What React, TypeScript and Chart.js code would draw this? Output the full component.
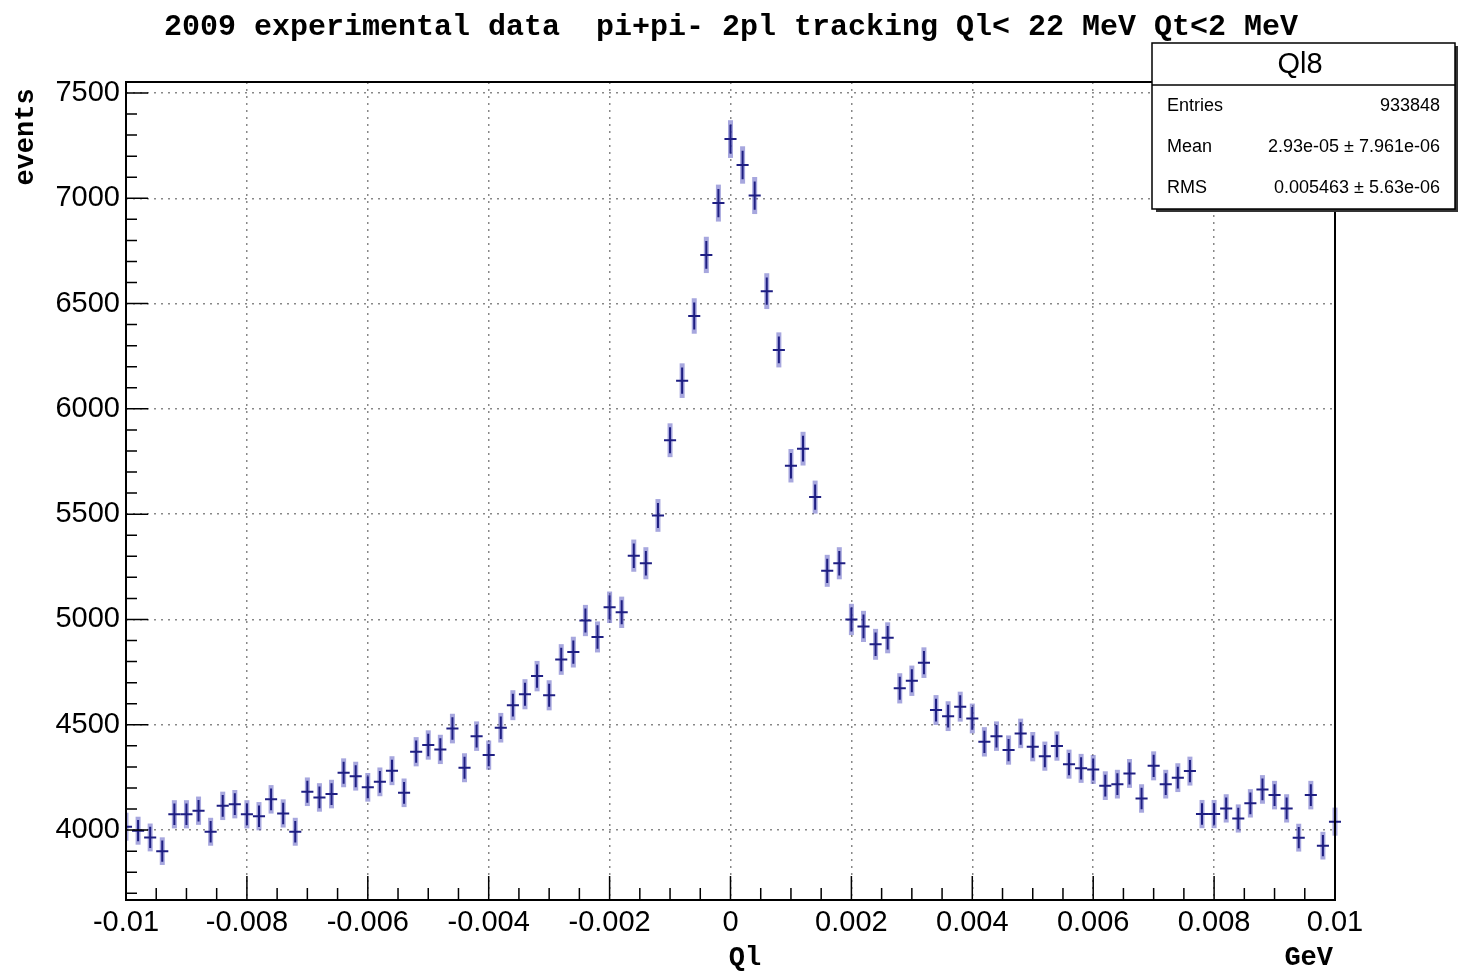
import React, { useEffect, useRef } from "react";
import { Chart, registerables } from "chart.js";
Chart.register(...registerables);

const TITLE = "2009 experimental data  pi+pi- 2pl tracking Ql< 22 MeV Qt<2 MeV";
const X_MIN = -0.01;
const BIN_WIDTH = 0.0002;
const COUNTS = [
  4016, 3997, 3965, 3900, 4075, 4075, 4092, 3992, 4115, 4123,
  4075, 4066, 4146, 4079, 3992, 4182, 4155, 4171, 4272, 4256,
  4203, 4229, 4282, 4177, 4372, 4404, 4383, 4482, 4296, 4446,
  4356, 4486, 4593, 4645, 4731, 4640, 4810, 4845, 4995, 4917,
  5058, 5034, 5303, 5267, 5494, 5851, 6134, 6441, 6731, 6977,
  7281, 7158, 7013, 6559, 6280, 5730, 5811, 5581, 5231, 5267,
  5000, 4967, 4882, 4913, 4673, 4709, 4795, 4570, 4541, 4586,
  4530, 4419, 4446, 4380, 4459, 4396, 4351, 4399, 4313, 4293,
  4288, 4211, 4218, 4269, 4150, 4305, 4218, 4249, 4280, 4076,
  4076, 4103, 4055, 4127, 4193, 4166, 4103, 3964, 4166, 3926,
  4040,
];
const X_TICKS = [-0.01, -0.008, -0.006, -0.004, -0.002, 0, 0.002, 0.004, 0.006, 0.008, 0.01];
const Y_TICKS = [4000, 4500, 5000, 5500, 6000, 6500, 7000, 7500];
const STATS = [
  ["Entries", "933848"],
  ["Mean", "2.93e-05 \u00b1 7.961e-06"],
  ["RMS", "0.005463 \u00b1 5.63e-06"],
];

const points = COUNTS.map((c, i) => ({ x: X_MIN + i * BIN_WIDTH, y: c }));

const rootPlugin = {
  id: "root",
  afterDatasetsDraw(chart: any) {
    const ctx = chart.ctx;
    const xs = chart.scales.x, ys = chart.scales.y;
    const a = chart.chartArea;
    ctx.save();
    ctx.beginPath();
    ctx.rect(a.left, a.top, a.right - a.left + 6, a.bottom - a.top);
    ctx.clip();
    points.forEach((p) => {
      const e = Math.sqrt(p.y);
      const px = xs.getPixelForValue(p.x);
      const py = ys.getPixelForValue(p.y);
      ctx.strokeStyle = "rgba(80,80,190,0.5)";
      ctx.lineWidth = 5;
      ctx.beginPath();
      ctx.moveTo(px, ys.getPixelForValue(p.y - e * 1.05));
      ctx.lineTo(px, ys.getPixelForValue(p.y + e * 1.05));
      ctx.stroke();
      ctx.strokeStyle = "rgb(30,30,130)";
      ctx.lineWidth = 2;
      ctx.beginPath();
      ctx.moveTo(xs.getPixelForValue(p.x - BIN_WIDTH / 2), py);
      ctx.lineTo(xs.getPixelForValue(p.x + BIN_WIDTH / 2), py);
      ctx.moveTo(px, ys.getPixelForValue(p.y - e * 0.8));
      ctx.lineTo(px, ys.getPixelForValue(p.y + e * 0.8));
      ctx.stroke();
    });
    ctx.restore();
    ctx.save();
    ctx.strokeStyle = "#000";
    ctx.lineWidth = 2;
    ctx.strokeRect(a.left, a.top, a.right - a.left, a.bottom - a.top);
    ctx.lineWidth = 1.5;
    ctx.beginPath();
    for (let v = 3700; v <= 7550; v += 100) {
      const py = ys.getPixelForValue(v);
      const len = v % 500 === 0 ? 22 : 11;
      ctx.moveTo(a.left, py);
      ctx.lineTo(a.left + len, py);
    }
    for (let k = -20; k <= 20; k++) {
      const v = k * 0.0005;
      const px = xs.getPixelForValue(v);
      const len = k % 4 === 0 ? 24 : 12;
      ctx.moveTo(px, a.bottom);
      ctx.lineTo(px, a.bottom - len);
    }
    ctx.stroke();
    ctx.fillStyle = "#000";
    ctx.font = "bold 30px 'Liberation Mono'";
    ctx.textAlign = "center";
    ctx.textBaseline = "middle";
    ctx.fillText(TITLE, 731, 27);
    ctx.font = "bold 27px 'Liberation Mono'";
    ctx.fillText("Ql", 745, 958);
    ctx.textAlign = "right";
    ctx.fillText("GeV", 1333, 958);
    ctx.translate(26, 137);
    ctx.rotate(-Math.PI / 2);
    ctx.textAlign = "center";
    ctx.fillText("events", 0, 0);
    ctx.restore();
    ctx.save();
    ctx.fillStyle = "#333";
    ctx.fillRect(1156, 46, 302, 166);
    ctx.fillStyle = "#fff";
    ctx.fillRect(1152, 43, 303, 166);
    ctx.strokeStyle = "#000";
    ctx.lineWidth = 1.5;
    ctx.strokeRect(1152, 43, 303, 166);
    ctx.beginPath();
    ctx.moveTo(1152, 85);
    ctx.lineTo(1455, 85);
    ctx.stroke();
    ctx.fillStyle = "#000";
    ctx.textBaseline = "middle";
    ctx.textAlign = "center";
    ctx.font = "29px 'Liberation Sans'";
    ctx.fillText("Ql8", 1300, 65);
    ctx.font = "18px 'Liberation Sans'";
    STATS.forEach((r, i) => {
      const y = 106 + i * 41;
      ctx.textAlign = "left";
      ctx.fillText(r[0], 1167, y);
      ctx.textAlign = "right";
      ctx.fillText(r[1], 1440, y);
    });
    ctx.restore();
  },
};

export default function App() {
  const ref = useRef<HTMLCanvasElement>(null);
  useEffect(() => {
    document.body.style.margin = "0";
    const chart = new Chart(ref.current!, {
      type: "scatter",
      data: { datasets: [{ data: points, pointRadius: 0, showLine: false }] },
      options: {
        animation: false,
        responsive: false,
        devicePixelRatio: 1,
        layout: { padding: { top: 82, right: 124, left: 0, bottom: 0 } },
        plugins: { legend: { display: false }, tooltip: { enabled: false } },
        scales: {
          x: {
            type: "linear",
            min: -0.01,
            max: 0.01,
            afterFit: (s: any) => { s.height = 77; },
            afterBuildTicks: (s: any) => { s.ticks = X_TICKS.map((v) => ({ value: v })); },
            grid: { color: "#888", lineWidth: 1.5, drawTicks: false },
            border: { display: false, dash: [2, 5] },
            ticks: {
              padding: 6,
              color: "#000",
              font: { family: "Liberation Sans", size: 29 },
              maxRotation: 0,
              callback: (v: any) => (Math.abs(v) < 1e-12 ? "0" : String(Number(v.toFixed(3)))),
            },
          },
          y: {
            min: 3668,
            max: 7552,
            afterFit: (s: any) => { s.width = 126; },
            afterBuildTicks: (s: any) => { s.ticks = Y_TICKS.map((v) => ({ value: v })); },
            grid: { color: "#888", lineWidth: 1.5, drawTicks: false },
            border: { display: false, dash: [2, 5] },
            ticks: {
              padding: 6,
              color: "#000",
              font: { family: "Liberation Sans", size: 29 },
              callback: (v: any) => String(v),
            },
          },
        },
      },
      plugins: [rootPlugin],
    });
    return () => chart.destroy();
  }, []);
  return <canvas ref={ref} width={1459} height={977} style={{ display: "block" }} />;
}
